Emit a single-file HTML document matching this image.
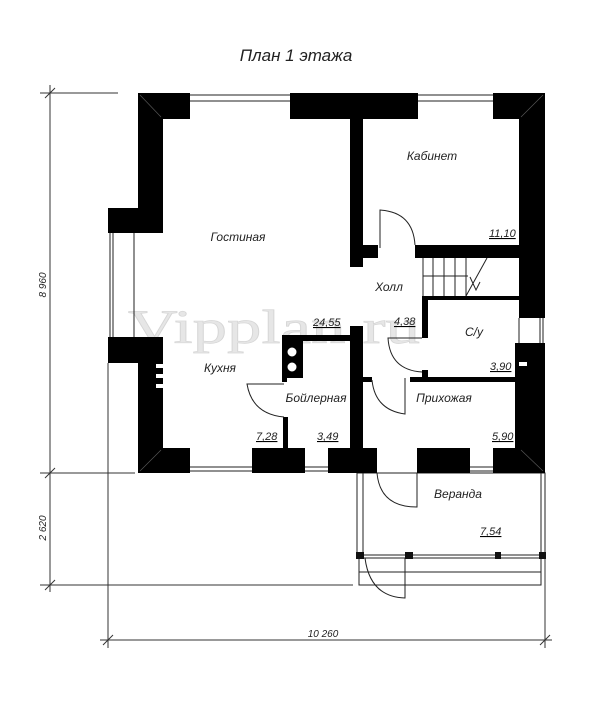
<!DOCTYPE html>
<html><head><meta charset="utf-8"><style>
html,body{margin:0;padding:0;background:#fff;}
svg{display:block;}
text{font-family:"Liberation Sans",sans-serif;font-style:italic;fill:#222;}
</style></head><body>
<svg width="600" height="722" viewBox="0 0 600 722" xmlns="http://www.w3.org/2000/svg">
<rect width="600" height="722" fill="#fff"/>
<text x="296" y="61" font-size="17" text-anchor="middle">План 1 этажа</text>

<!-- watermark -->
<text x="128" y="343" font-size="48" textLength="292" lengthAdjust="spacingAndGlyphs" style="fill:#e6e6e6;font-family:'Liberation Serif',serif;font-style:normal" stroke="#d6d6d6" stroke-width="0.7">Vipplan.ru</text>

<!-- dimension lines -->
<g stroke="#333" stroke-width="1" fill="none">
<line x1="50" y1="85" x2="50" y2="592"/>
<line x1="40" y1="93" x2="118" y2="93"/>
<line x1="40" y1="473" x2="135" y2="473"/>
<line x1="40" y1="585" x2="353" y2="585"/>
<line x1="108" y1="363" x2="108" y2="648"/>
<line x1="545" y1="473" x2="545" y2="648"/>
<line x1="100" y1="640" x2="552" y2="640"/>
<line x1="45" y1="98" x2="55" y2="88"/>
<line x1="45" y1="478" x2="55" y2="468"/>
<line x1="45" y1="590" x2="55" y2="580"/>
<line x1="103" y1="645" x2="113" y2="635"/>
<line x1="540" y1="645" x2="550" y2="635"/>
</g>
<text x="0" y="0" font-size="10" transform="translate(46,285) rotate(-90)" text-anchor="middle">8 960</text>
<text x="0" y="0" font-size="10" transform="translate(46,528) rotate(-90)" text-anchor="middle">2 620</text>
<text x="323" y="637" font-size="10" text-anchor="middle">10 260</text>

<!-- veranda -->
<g stroke="#222" stroke-width="1" fill="none">
<rect x="357" y="473" width="188" height="85"/>
<line x1="363" y1="473" x2="363" y2="558"/>
<line x1="541" y1="473" x2="541" y2="558"/>
<line x1="357" y1="555" x2="545" y2="555"/>
<rect x="359" y="558" width="182" height="14"/>
<rect x="359" y="572" width="182" height="13"/>
<path d="M377 473 Q380 507 417 507 L417 473"/>
<path d="M365 558 Q370 597 405 598 L405 558"/>
</g>
<g fill="#111">
<rect x="356" y="552" width="8" height="7"/>
<rect x="405" y="552" width="8" height="7"/>
<rect x="495" y="552" width="6" height="7"/>
<rect x="539" y="552" width="7" height="7"/>
</g>

<!-- outer walls -->
<g fill="#000">
<rect x="138" y="93" width="52" height="26"/>
<rect x="290" y="93" width="128" height="26"/>
<rect x="493" y="93" width="52" height="26"/>
<rect x="138" y="93" width="25" height="140"/>
<rect x="108" y="208" width="55" height="25"/>
<rect x="108" y="337" width="55" height="26"/>
<rect x="138" y="337" width="25" height="136"/>
<rect x="519" y="93" width="26" height="225"/>
<rect x="515" y="343" width="30" height="130"/>
<rect x="138" y="448" width="52" height="25"/>
<rect x="252" y="448" width="53" height="25"/>
<rect x="328" y="448" width="49" height="25"/>
<rect x="417" y="448" width="53" height="25"/>
<rect x="493" y="448" width="52" height="25"/>
<rect x="350" y="119" width="13" height="148"/>
<rect x="363" y="245" width="15" height="13"/>
<rect x="415" y="245" width="104" height="13"/>
<rect x="422" y="296" width="97" height="4"/>
<rect x="422" y="296" width="6" height="42"/>
<rect x="422" y="370" width="6" height="8"/>
<rect x="410" y="377" width="109" height="5"/>
<rect x="282" y="335" width="68" height="6"/>
<rect x="350" y="326" width="13" height="147"/>
<rect x="363" y="377" width="9" height="5"/>
<rect x="282" y="341" width="21" height="37"/>
<rect x="282" y="378" width="5" height="4"/>
<rect x="283" y="417" width="5" height="31"/>
</g>
<g stroke="#555" stroke-width="0.7">
<line x1="140" y1="95" x2="161" y2="117"/>
<line x1="543" y1="95" x2="521" y2="117"/>
<line x1="140" y1="471" x2="161" y2="450"/>
<line x1="543" y1="471" x2="521" y2="450"/>
</g>
<g stroke="#222" stroke-width="1" fill="none">
<line x1="190" y1="95" x2="290" y2="95"/><line x1="190" y1="101" x2="290" y2="101"/>
<line x1="418" y1="95" x2="493" y2="95"/><line x1="418" y1="101" x2="493" y2="101"/>
<line x1="190" y1="467" x2="252" y2="467"/><line x1="190" y1="471" x2="252" y2="471"/>
<line x1="305" y1="467" x2="328" y2="467"/><line x1="305" y1="471" x2="328" y2="471"/>
<line x1="470" y1="467" x2="493" y2="467"/><line x1="470" y1="471" x2="493" y2="471"/>
<line x1="110" y1="233" x2="110" y2="337"/><line x1="113" y1="233" x2="113" y2="337"/>
<line x1="134" y1="233" x2="134" y2="337"/>
<line x1="540" y1="318" x2="540" y2="343"/><line x1="543" y1="318" x2="543" y2="343"/>
<line x1="519" y1="318" x2="519" y2="343"/>
<path d="M380 248 L380 210 Q413 212 415 245"/>
<path d="M422 338 L388 338 Q390 370 422 372"/>
<path d="M372 380 Q375 410 405 414 L405 378"/>
<path d="M284 384 L247 384 Q252 414 284 417"/>
<line x1="423" y1="258" x2="423" y2="296"/>
<line x1="423" y1="276" x2="468" y2="276"/>
<line x1="433" y1="258" x2="433" y2="296"/>
<line x1="444" y1="258" x2="444" y2="296"/>
<line x1="455" y1="258" x2="455" y2="296"/>
<line x1="466" y1="258" x2="466" y2="296"/>
<path d="M466 296 L487 258"/>
<path d="M470 277 L476 290 L480 282"/>
</g>
<g fill="#fff">
<circle cx="292" cy="352" r="5" stroke="#000"/>
<circle cx="292" cy="367" r="5" stroke="#000"/>
<rect x="156" y="364" width="7" height="4"/>
<rect x="156" y="374" width="7" height="4"/>
<rect x="156" y="384" width="7" height="4"/>
<rect x="519" y="362" width="8" height="4"/>
</g>

<g font-size="12">
<text x="238" y="241" text-anchor="middle">Гостиная</text>
<text x="432" y="160" text-anchor="middle">Кабинет</text>
<text x="389" y="291" text-anchor="middle">Холл</text>
<text x="474" y="336" text-anchor="middle">С/у</text>
<text x="220" y="372" text-anchor="middle">Кухня</text>
<text x="316" y="402" text-anchor="middle">Бойлерная</text>
<text x="444" y="402" text-anchor="middle">Прихожая</text>
<text x="458" y="498" text-anchor="middle">Веранда</text>
</g>
<g font-size="11" text-decoration="underline">
<text x="489" y="237">11,10</text>
<text x="313" y="326">24,55</text>
<text x="394" y="325">4,38</text>
<text x="490" y="370">3,90</text>
<text x="256" y="440">7,28</text>
<text x="317" y="440">3,49</text>
<text x="492" y="440">5,90</text>
<text x="480" y="535">7,54</text>
</g>
</svg>
</body></html>
